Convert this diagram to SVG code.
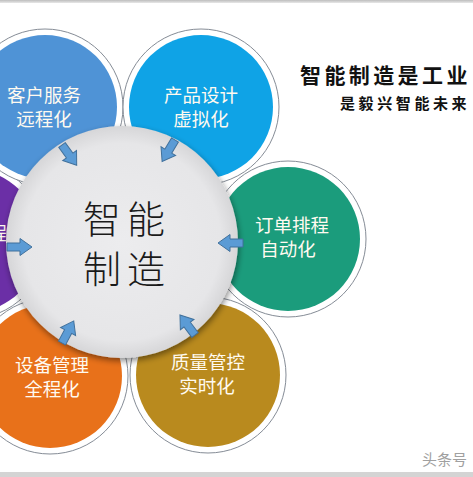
<svg xmlns="http://www.w3.org/2000/svg" width="473" height="477" viewBox="0 0 473 477">
  <style>
    .ring { fill: #ffffff; stroke: #858c96; stroke-width: 1; }
    .lbl { font-family: "Noto Sans CJK SC", "Noto Sans", sans-serif; font-size: 18.5px; fill: #fffaf0; text-anchor: middle; }
    .center { font-family: "Noto Sans CJK SC", sans-serif; font-size: 38px; fill: #1a1a1a; text-anchor: middle; letter-spacing: 6px; font-weight: 300; }
    .title { font-family: "Noto Sans CJK SC", sans-serif; fill: #111111; font-weight: 700; }
    .arrow { fill: #5b9bd5; stroke: #41719c; stroke-width: 1; }
  </style>
  <defs>
    <radialGradient id="gc" cx="0.5" cy="0.5" r="0.5">
      <stop offset="0" stop-color="#ececee"/>
      <stop offset="0.85" stop-color="#e6e6e8"/>
      <stop offset="1" stop-color="#d6d6d8"/>
    </radialGradient>
    <filter id="sh" x="-20%" y="-20%" width="140%" height="140%">
      <feGaussianBlur in="SourceAlpha" stdDeviation="3"/>
      <feOffset dx="1" dy="3" result="b"/>
      <feComponentTransfer><feFuncA type="linear" slope="0.45"/></feComponentTransfer>
      <feMerge><feMergeNode/><feMergeNode in="SourceGraphic"/></feMerge>
    </filter>
    <path id="arr" d="M0,-4 L13,-4 L13,-8.5 L25,0 L13,8.5 L13,4 L0,4 Z"/>
    <linearGradient id="bar" x1="0" y1="0" x2="0" y2="1">
      <stop offset="0" stop-color="#bdbdbd"/>
      <stop offset="1" stop-color="#e8e8e8"/>
    </linearGradient>
  </defs>
  <rect width="473" height="477" fill="#ffffff"/>
  <rect x="0" y="0" width="473" height="3" fill="url(#bar)"/>
  <rect x="0" y="472" width="473" height="5" fill="#d4d4d4"/>

  <g id="node-purple">
    <circle class="ring" cx="-31" cy="241" r="78"/>
    <circle cx="-31" cy="241" r="72" fill="#6b2fa6"/>
    <text class="lbl" x="-30" y="240">生产过程</text>
  </g>
  <g id="node-kehu">
    <circle class="ring" cx="45" cy="107" r="78"/>
    <circle cx="45" cy="107" r="72" fill="#4f93d6"/>
    <text class="lbl" x="44" y="102">客户服务</text>
    <text class="lbl" x="44" y="126">远程化</text>
  </g>
  <g id="node-chanpin">
    <circle class="ring" cx="201" cy="107" r="78"/>
    <circle cx="201" cy="107" r="72" fill="#0fa3e6"/>
    <text class="lbl" x="201" y="102">产品设计</text>
    <text class="lbl" x="201" y="126">虚拟化</text>
  </g>
  <g id="node-dingdan">
    <circle class="ring" cx="288" cy="239" r="78"/>
    <circle cx="288" cy="239" r="72" fill="#1b9c7c"/>
    <text class="lbl" x="292" y="232">订单排程</text>
    <text class="lbl" x="288" y="256">自动化</text>
  </g>
  <g id="node-zhiliang">
    <circle class="ring" cx="208" cy="375" r="78"/>
    <circle cx="208" cy="375" r="72" fill="#b98a1e"/>
    <text class="lbl" x="208" y="369">质量管控</text>
    <text class="lbl" x="207" y="393">实时化</text>
  </g>
  <g id="node-shebei">
    <circle class="ring" cx="50" cy="376" r="78"/>
    <circle cx="50" cy="376" r="72" fill="#e8711a"/>
    <text class="lbl" x="52" y="372">设备管理</text>
    <text class="lbl" x="52" y="396">全程化</text>
  </g>

  <g id="node-center">
    <circle cx="122" cy="242" r="116" fill="url(#gc)" filter="url(#sh)"/>
    <text class="center" x="127" y="233">智能</text>
    <text class="center" x="127" y="283">制造</text>
  </g>

  <g id="connectors">
    <use href="#arr" class="arrow" transform="translate(62,145) rotate(54)"/>
    <use href="#arr" class="arrow" transform="translate(175,140) rotate(121)"/>
    <use href="#arr" class="arrow" transform="translate(243,243) rotate(180)"/>
    <use href="#arr" class="arrow" transform="translate(7,247) rotate(0)"/>
    <use href="#arr" class="arrow" transform="translate(62,343) rotate(-62)"/>
    <use href="#arr" class="arrow" transform="translate(195,335) rotate(-127)"/>
  </g>

  <g id="title">
    <text class="title" x="300" y="83" font-size="21" letter-spacing="3.4">智能制造是工业</text>
    <text class="title" x="340" y="109" font-size="15" letter-spacing="3.6" font-weight="500">是毅兴智能未来</text>
  </g>
  <text x="422" y="465" font-family="Noto Sans CJK SC, sans-serif" font-size="15" fill="#a0a0a0">头条号</text>
</svg>
